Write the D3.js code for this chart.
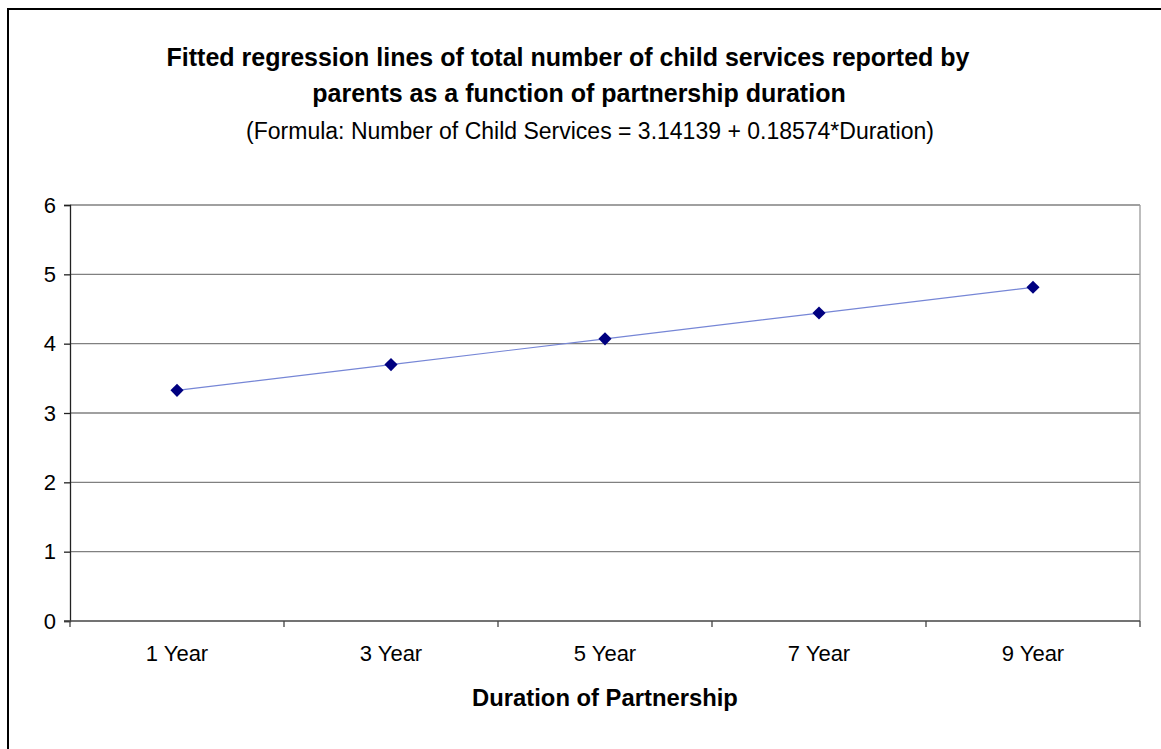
<!DOCTYPE html>
<html>
<head>
<meta charset="utf-8">
<script src="https://cdn.jsdelivr.net/npm/d3@7"></script>
<style>
  html, body { margin: 0; padding: 0; background: #fff; }
  svg { display: block; font-family: Arial, "Liberation Sans", sans-serif; }
</style>
</head>
<body>
<svg id="chart" width="1161" height="749"></svg>
<script>
// Partnership durations (categories) and fitted number of child services
const durations = ["1 Year", "3 Year", "5 Year", "7 Year", "9 Year"];
const durationYears = [1, 3, 5, 7, 9];
const childServices = [3.32713, 3.69861, 4.07009, 4.44157, 4.81305];
const yTicks = [0, 1, 2, 3, 4, 5, 6];

const titleLines = [
  "Fitted regression lines of total number of child services reported by",
  "parents as a function of partnership duration"
];
const subtitle = "(Formula: Number of Child Services = 3.14139 + 0.18574*Duration)";
const xTitle = "Duration of Partnership";

const svg = d3.select("#chart");
const W = 1161, H = 749;
const plot = { left: 70, right: 1140, top: 205, bottom: 621 };

// Outer frame (extends past the right and bottom edges)
svg.append("rect")
  .attr("x", 8).attr("y", 9)
  .attr("width", W + 20).attr("height", H + 20)
  .attr("fill", "#fff").attr("stroke", "#000").attr("stroke-width", 2);

const x = d3.scaleBand().domain(durations).range([plot.left, plot.right]).padding(0);
const y = d3.scaleLinear().domain([0, 6]).range([plot.bottom, plot.top]);

// Horizontal gridlines
svg.append("g").selectAll("line")
  .data(yTicks.filter(d => d > 0))
  .join("line")
  .attr("x1", plot.left).attr("x2", plot.right)
  .attr("y1", d => y(d)).attr("y2", d => y(d))
  .attr("stroke", "#808080").attr("stroke-width", 1.3);

// Right border of the plot area
svg.append("line")
  .attr("x1", plot.right).attr("x2", plot.right)
  .attr("y1", plot.top).attr("y2", plot.bottom)
  .attr("stroke", "#9a9a9a").attr("stroke-width", 1.3);

// Y axis
const yAxis = d3.axisLeft(y).tickValues(yTicks).tickSize(6).tickPadding(8).tickFormat(d3.format("d"));
const gy = svg.append("g").attr("transform", `translate(${plot.left},0)`).call(yAxis);
gy.select(".domain").attr("stroke", "#222").attr("stroke-width", 1.3);
gy.selectAll(".tick line").attr("stroke", "#222").attr("stroke-width", 1.3);
gy.selectAll(".tick text").attr("font-size", 22).attr("fill", "#000")
  .attr("font-family", "Arial, 'Liberation Sans', sans-serif");

// X axis: labels centred on categories, ticks on category boundaries
const gx = svg.append("g").attr("transform", `translate(0,${plot.bottom})`);
gx.append("line")
  .attr("x1", plot.left - 6).attr("x2", plot.right)
  .attr("stroke", "#444").attr("stroke-width", 1.6);
const boundaries = durations.map(d => x(d)).concat([x(durations[durations.length - 1]) + x.bandwidth()]);
gx.selectAll(".xtick").data(boundaries).join("line")
  .attr("class", "xtick")
  .attr("x1", d => d).attr("x2", d => d)
  .attr("y1", 0).attr("y2", 6)
  .attr("stroke", "#444").attr("stroke-width", 1.3);
gx.selectAll(".xlabel").data(durations).join("text")
  .attr("class", "xlabel")
  .attr("x", d => x(d) + x.bandwidth() / 2)
  .attr("y", 40)
  .attr("text-anchor", "middle")
  .attr("font-size", 22)
  .text(d => d);

// Fitted line
const cx = d => x(d) + x.bandwidth() / 2;
const line = d3.line().x((d, i) => cx(durations[i])).y(d => y(d));
svg.append("path")
  .datum(childServices)
  .attr("d", line)
  .attr("fill", "none")
  .attr("stroke", "#7686d6")
  .attr("stroke-width", 1.2);

// Diamond markers
const diamond = d3.symbol().type(d3.symbolDiamond2).size(110);
svg.append("g").selectAll("path")
  .data(childServices)
  .join("path")
  .attr("transform", (d, i) => `translate(${cx(durations[i])},${y(d)})`)
  .attr("d", diamond)
  .attr("fill", "#000080");

// Titles
const titleCenters = [568, 579];
const titleBaselines = [66, 102];
svg.append("g").selectAll("text")
  .data(titleLines)
  .join("text")
  .attr("x", (d, i) => titleCenters[i])
  .attr("y", (d, i) => titleBaselines[i])
  .attr("text-anchor", "middle")
  .attr("font-size", 25)
  .attr("font-weight", "bold")
  .text(d => d);

svg.append("text")
  .attr("x", 590).attr("y", 139)
  .attr("text-anchor", "middle")
  .attr("font-size", 23)
  .text(subtitle);

svg.append("text")
  .attr("x", 605).attr("y", 706)
  .attr("text-anchor", "middle")
  .attr("font-size", 23.8)
  .attr("font-weight", "bold")
  .text(xTitle);
</script>
</body>
</html>
